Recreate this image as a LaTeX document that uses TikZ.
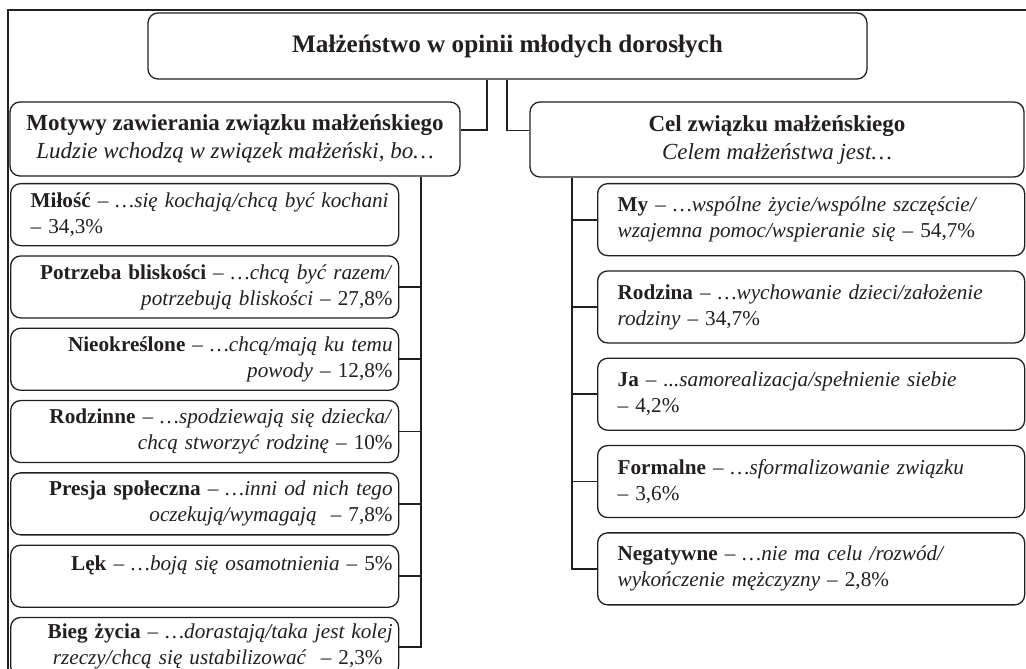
\documentclass[tikz,border=0pt]{standalone}
\usepackage{fontspec}
\setmainfont{Liberation Serif}
\usetikzlibrary{positioning}
\definecolor{ink}{RGB}{35,31,32}
\tikzset{frame/.style={line width=1.4pt,draw=ink}}
\tikzset{rbox/.style={draw=ink,line width=0.65pt,rounded corners=5pt,text=ink,font=\fontsize{10.6}{13}\selectfont}}
\tikzset{headbox/.style={rbox,align=center,font=\fontsize{11.5}{14}\selectfont}}
\tikzset{motive/.style={rbox,text width=188pt,inner xsep=3pt,minimum height=31pt,align=right}}
\tikzset{aim/.style={rbox,text width=193.5pt,inner xsep=10pt,minimum height=36pt,align=left}}
\tikzset{link/.style={draw=ink,line width=0.9pt}}

\begin{document}
\begin{tikzpicture}[x=0.5pt,y=-0.5pt]
\useasboundingbox (0,0) rectangle (1026,668);
\clip (0,0) rectangle (1026,668);
\draw[frame] (8,690) |- (1040,10);

\node[headbox,minimum width=359.5pt,minimum height=33pt,font=\fontsize{12.6}{14}\selectfont] (title) at (507.5,46) {\textbf{Małżeństwo w opinii młodych dorosłych}};
\node[headbox,minimum width=225pt,minimum height=37pt] (motives) at (235,139) {\textbf{Motywy zawierania związku małżeńskiego}\\ \textit{Ludzie wchodzą w związek małżeński, bo…}};
\node[headbox,minimum width=247pt,minimum height=37.5pt] (aims) at (777,139.5) {\textbf{Cel związku małżeńskiego}\\ \textit{Celem małżeństwa jest…}};

\node[motive,align=left,anchor=north west] (milosc) at (10,183) {\mbox{\hspace*{7pt}\textbf{Miłość} – \textit{…się kochają/chcą być kochani}}\\ \hspace*{7pt}– 34,3\%};
\node[motive,below=4.5pt of milosc] (blisko) {\textbf{Potrzeba bliskości} – \textit{…chcą być razem/}\\ \textit{potrzebują bliskości} – 27,8\%};
\node[motive,below=4.5pt of blisko] (nieokr) {\textbf{Nieokreślone} – \textit{…chcą/mają ku temu}\\ \textit{powody} – 12,8\%};
\node[motive,below=4.5pt of nieokr] (rodzinne) {\textbf{Rodzinne} – \textit{…spodziewają się dziecka/}\\ \textit{chcą stworzyć rodzinę} – 10\%};
\node[motive,below=4.5pt of rodzinne] (presja) {\textbf{Presja społeczna} – \textit{…inni od nich tego}\\ \textit{oczekują/wymagają}\ \ – 7,8\%};
\node[motive,below=4.5pt of presja] (lek) {\textbf{Lęk} – \textit{…boją się osamotnienia} – 5\%\\ \mbox{}};
\node[motive,below=4.5pt of lek,minimum height=29pt] (bieg) {\textbf{Bieg życia} – \textit{…dorastają/taka jest kolej}\hspace*{5pt}\\ \textit{rzeczy/chcą się ustabilizować}\ \ – 2,3\%\hspace*{5pt}};

\node[aim,anchor=north west] (my) at (597,183) {\textbf{My} – \textit{…wspólne życie/wspólne szczęście/}\\ \textit{wzajemna pomoc/wspieranie się} – 54,7\%};
\node[aim,below=7pt of my] (rodzina) {\textbf{Rodzina} – \textit{…wychowanie dzieci/założenie}\\ \textit{rodziny} – 34,7\%};
\node[aim,below=7pt of rodzina] (ja) {\textbf{Ja} – \textit{...samorealizacja/spełnienie siebie}\\ – 4,2\%};
\node[aim,below=7pt of ja] (formalne) {\textbf{Formalne} – \textit{…sformalizowanie związku}\\ – 3,6\%};
\node[aim,below=7pt of formalne] (negat) {\textbf{Negatywne} – \textit{…nie ma celu /rozwód/}\\ \textit{wykończenie mężczyzny} – 2,8\%};

\coordinate (lfork) at (487,0);
\coordinate (rfork) at (507,0);
\coordinate (ltrunk) at (421,0);
\coordinate (rtrunk) at (572,0);
\draw[link] (title.south -| lfork) |- ([yshift=4.5pt]motives.east);
\draw[link] (title.south -| rfork) |- ([yshift=4.5pt]aims.west);
\draw[link] (motives.south -| ltrunk) |- (bieg.east);
\foreach \n in {blisko,nieokr,rodzinne,presja,lek}
  \draw[link] (\n.east) -- (\n.east -| ltrunk);
\draw[link] (aims.south -| rtrunk) |- (negat.west);
\foreach \n in {my,rodzina,ja,formalne}
  \draw[link] (\n.west) -- (\n.west -| rtrunk);
\end{tikzpicture}
\end{document}
